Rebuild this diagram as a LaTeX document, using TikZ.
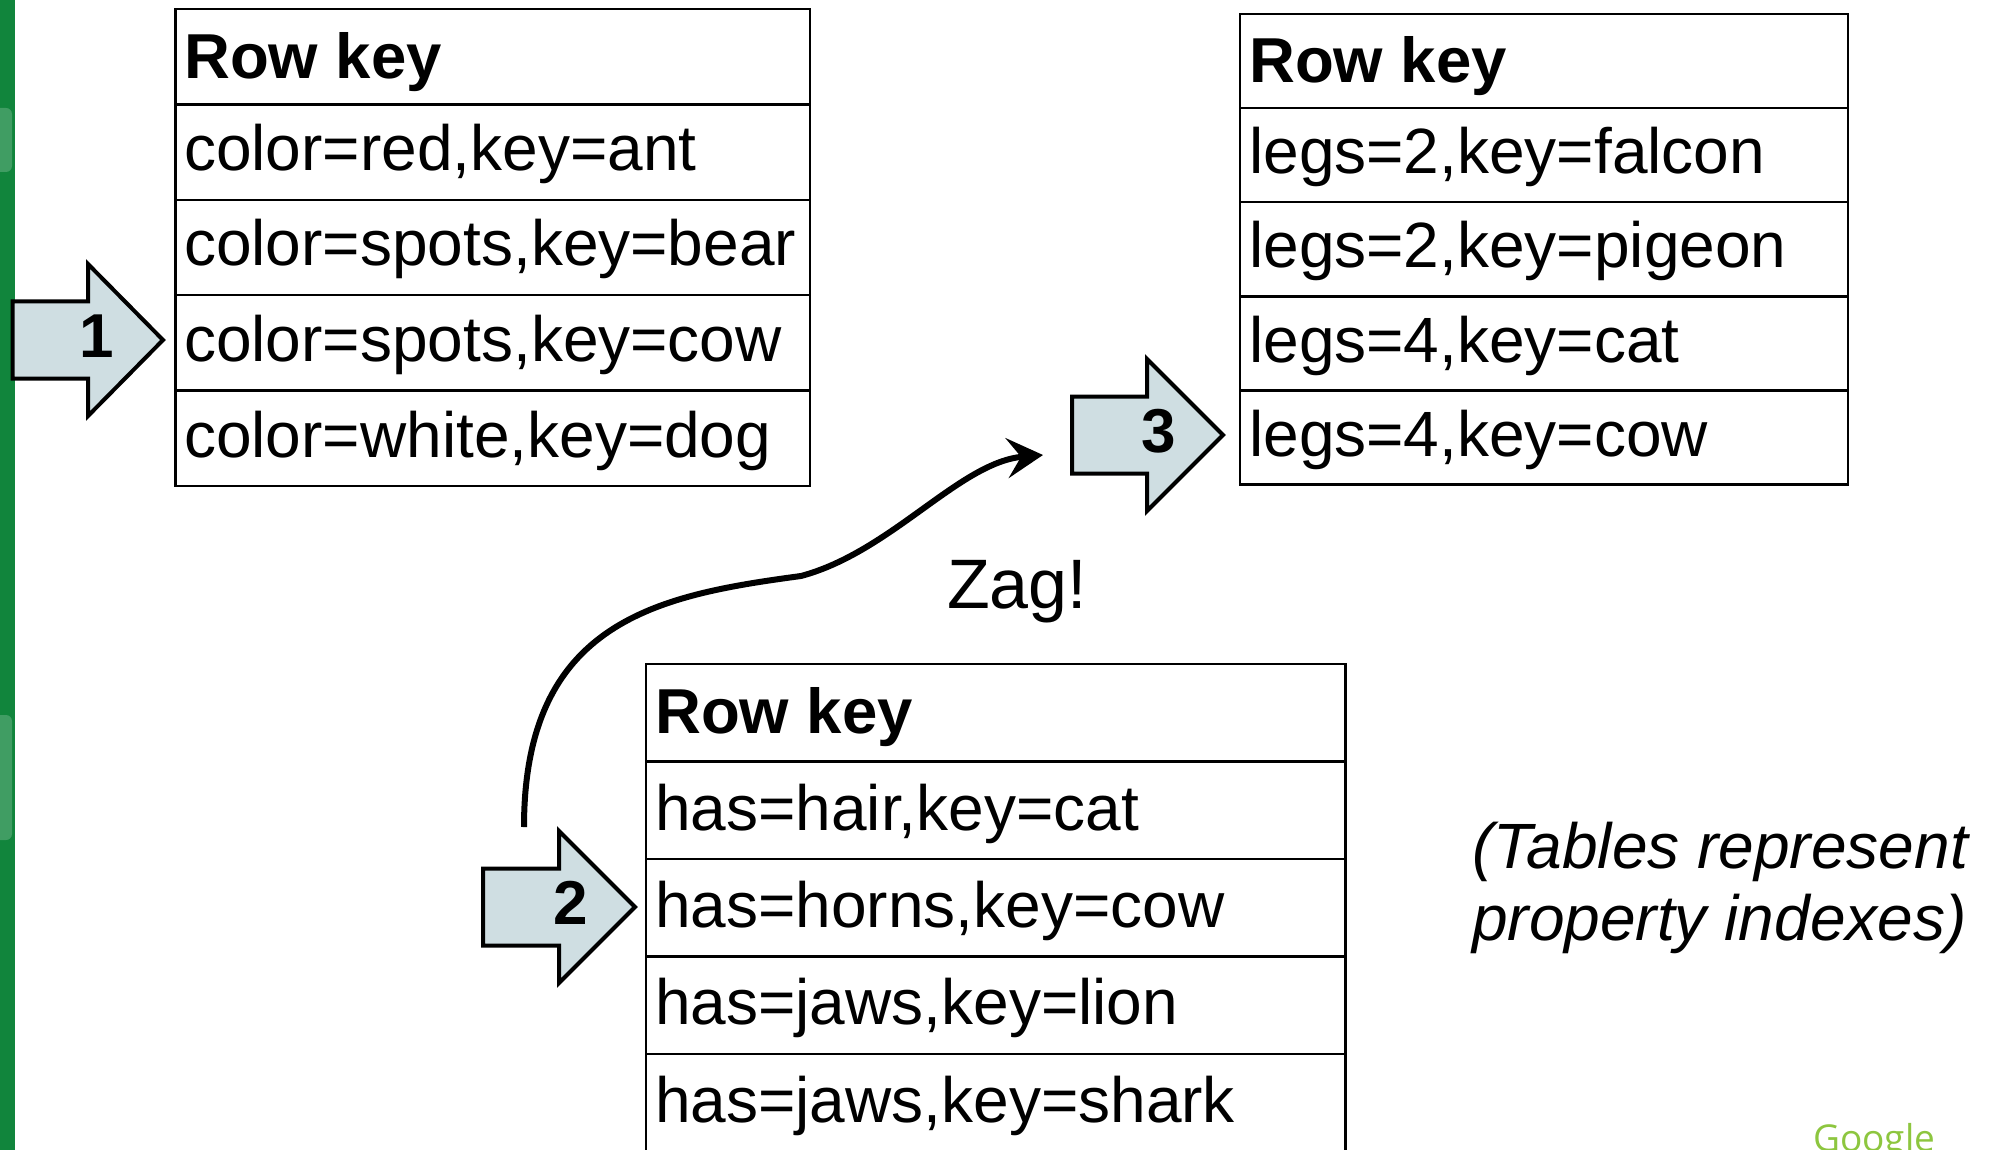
\documentclass[tikz,border=0pt]{standalone}
\usepackage{fontspec}
\setmainfont{Liberation Sans}
\newfontfamily\logofont{Open Sans}
\usetikzlibrary{arrows.meta}

\definecolor{barGreen}{RGB}{17,133,60}
\definecolor{arrowFill}{RGB}{207,222,226}
\definecolor{logoGreen}{RGB}{141,198,63}

\tikzset{
  rowtext/.style={anchor=base west, inner sep=0pt, font=\fontsize{64}{66}\selectfont},
  headtext/.style={anchor=base west, inner sep=0pt, font=\bfseries\fontsize{63.5}{66}\selectfont},
  tablebox/.style={draw=black, line width=2.5pt},
  blockarrow/.style={draw=black, fill=arrowFill, line width=4pt, line join=miter},
  arrownum/.style={inner sep=0pt, font=\bfseries\fontsize{62}{62}\selectfont},
  zagline/.style={line width=6pt, -{Stealth[length=36pt,width=40pt,inset=14pt]}},
  notetext/.style={anchor=base west, inner sep=0pt, font=\itshape\fontsize{64}{72}\selectfont},
}

\begin{document}
\begin{tikzpicture}[x=1pt,y=-1pt]
\useasboundingbox (0,0) rectangle (1994,1150);
\fill[white] (0,0) rectangle (1994,1150);

% green side bar
\fill[barGreen] (0,0) rectangle (15,1150);
\fill[white, opacity=0.2, rounded corners=6pt] (-8,108) rectangle (12,172);
\fill[white, opacity=0.2, rounded corners=6pt] (-8,715) rectangle (12,840);

% ---- table: colour index
\draw[tablebox] (175.5,9) rectangle (810,486);
\foreach \y in {104.4,199.8,295.2,390.6} \draw[tablebox] (175.5,\y) -- (810,\y);
\node[headtext] (c0) at (184,79) {Row key};
\node[rowtext] (c1) at (184,170.5) {color=red,key=ant};
\node[rowtext] (c2) at (184,266) {color=spots,key=bear};
\node[rowtext] (c3) at (184,361.5) {color=spots,key=cow};
\node[rowtext] (c4) at (184,457) {color=white,key=dog};

% ---- table: legs index
\draw[tablebox] (1240,14) rectangle (1848,484.5);
\foreach \y in {108.1,202.2,296.3,390.4} \draw[tablebox] (1240,\y) -- (1848,\y);
\node[headtext] (l0) at (1249,83) {Row key};
\node[rowtext] (l1) at (1249,174) {legs=2,key=falcon};
\node[rowtext] (l2) at (1249,268) {legs=2,key=pigeon};
\node[rowtext] (l3) at (1249,362) {legs=4,key=cat};
\node[rowtext] (l4) at (1249,456) {legs=4,key=cow};

% ---- table: has index
\draw[tablebox] (646,1160) -- (646,664) -- (1345.5,664) -- (1345.5,1160);
\foreach \y in {761.5,859,956.5,1054} \draw[tablebox] (646,\y) -- (1345.5,\y);
\node[headtext] (h0) at (655,733) {Row key};
\node[rowtext] (h1) at (655,830) {has=hair,key=cat};
\node[rowtext] (h2) at (655,927) {has=horns,key=cow};
\node[rowtext] (h3) at (655,1024) {has=jaws,key=lion};
\node[rowtext] (h4) at (655,1122) {has=jaws,key=shark};

% ---- block arrows
\draw[blockarrow] (12.5,301.5) -- (88,301.5) -- (88,264) -- (163,340)
  -- (88,416) -- (88,378.5) -- (12.5,378.5) -- cycle;
\node[arrownum] (n1) at (97,336) {1};

\draw[blockarrow] (483,868.5) -- (559,868.5) -- (559,831) -- (635,907)
  -- (559,983) -- (559,945.5) -- (483,945.5) -- cycle;
\node[arrownum] (n2) at (571,903) {2};

\draw[blockarrow] (1072,396.5) -- (1147,396.5) -- (1147,359) -- (1223,435)
  -- (1147,511) -- (1147,473.5) -- (1072,473.5) -- cycle;
\node[arrownum] (n3) at (1159,431) {3};

% ---- the zag connector
\coordinate (zagStart) at (524,827);
\coordinate (zagMid) at (801,576);
\coordinate (zagEnd) at (1043,455);
\draw[zagline] (zagStart) .. controls (524,620) and (660,595) .. (zagMid)
  .. controls (891,552) and (960,462) .. (zagEnd);
\node[anchor=base west, inner sep=0pt, font=\fontsize{70}{70}\selectfont] (zag) at (947,608) {Zag!};

% ---- note
\node[notetext] (note1) at (1472,868) {(Tables represent};
\node[notetext] (note2) at (1472,940) {property indexes)};

% ---- footer logo
\node[anchor=base west, inner sep=0pt, text=logoGreen, font=\logofont\fontsize{37}{37}\selectfont] (logo) at (1813,1151) {Google};
\end{tikzpicture}
\end{document}
